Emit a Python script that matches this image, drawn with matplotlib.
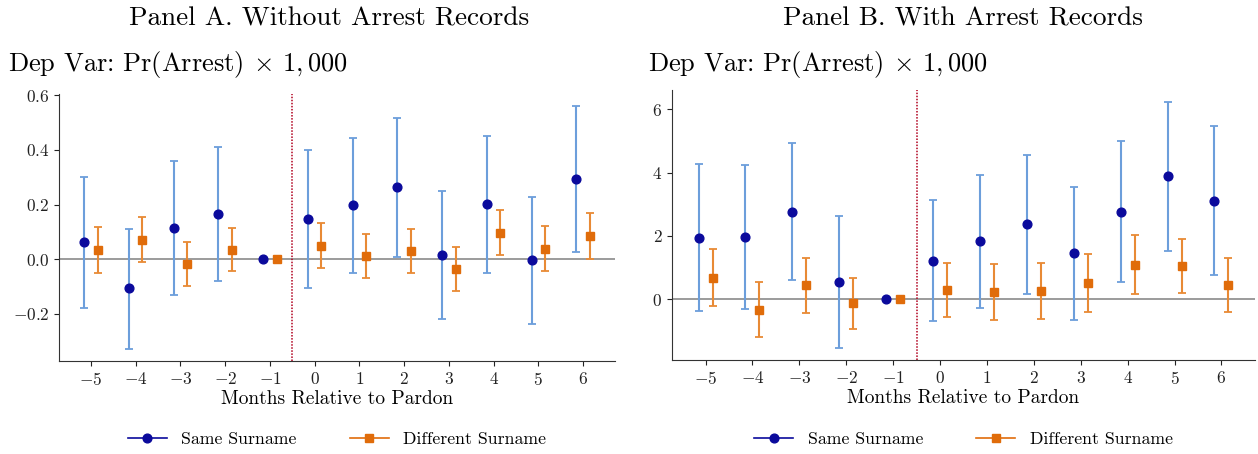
import numpy as np
import matplotlib
matplotlib.use("Agg")
import matplotlib.pyplot as plt
from matplotlib.lines import Line2D

plt.rcParams['font.family'] = 'serif'
plt.rcParams['font.serif'] = ['cmr10']
plt.rcParams['mathtext.fontset'] = 'cm'
plt.rcParams['axes.formatter.use_mathtext'] = True

months = np.arange(-5, 7)

# Panel A: without arrest records
a_same = [0.063, -0.107, 0.115, 0.166, 0.0, 0.146, 0.198, 0.263, 0.015, 0.201, -0.004, 0.292]
a_same_lo = [-0.177, -0.328, -0.129, -0.079, 0.0, -0.107, -0.049, 0.009, -0.220, -0.050, -0.237, 0.025]
a_same_hi = [0.302, 0.112, 0.360, 0.410, 0.0, 0.400, 0.444, 0.518, 0.250, 0.452, 0.228, 0.560]
a_diff = [0.034, 0.072, -0.018, 0.035, 0.0, 0.049, 0.012, 0.030, -0.037, 0.096, 0.039, 0.084]
a_diff_lo = [-0.050, -0.011, -0.099, -0.044, 0.0, -0.033, -0.070, -0.051, -0.118, 0.015, -0.043, 0.0]
a_diff_hi = [0.118, 0.155, 0.062, 0.115, 0.0, 0.131, 0.094, 0.112, 0.045, 0.179, 0.121, 0.168]

# Panel B: with arrest records
b_same = [1.93, 1.97, 2.76, 0.54, 0.0, 1.20, 1.84, 2.37, 1.45, 2.76, 3.88, 3.11]
b_same_lo = [-0.39, -0.30, 0.59, -1.54, 0.0, -0.70, -0.27, 0.17, -0.67, 0.53, 1.52, 0.75]
b_same_hi = [4.26, 4.23, 4.94, 2.64, 0.0, 3.12, 3.94, 4.56, 3.56, 5.00, 6.23, 5.48]
b_diff = [0.68, -0.34, 0.43, -0.13, 0.0, 0.30, 0.22, 0.25, 0.52, 1.09, 1.06, 0.44]
b_diff_lo = [-0.23, -1.21, -0.45, -0.96, 0.0, -0.58, -0.65, -0.63, -0.40, 0.17, 0.20, -0.42]
b_diff_hi = [1.58, 0.55, 1.31, 0.68, 0.0, 1.15, 1.11, 1.15, 1.44, 2.03, 1.91, 1.31]

NAVY = '#0b0a9c'
LIGHT_BLUE = '#6c9edb'
ORANGE = '#e06c0a'
LIGHT_ORANGE = '#e88a35'


def draw_panel(ax, same, s_lo, s_hi, diff, d_lo, d_hi):
    same = np.array(same)
    diff = np.array(diff)
    s_err = [same - np.array(s_lo), np.array(s_hi) - same]
    d_err = [diff - np.array(d_lo), np.array(d_hi) - diff]
    ax.axhline(0, color='#808080', lw=1.1, zorder=1)
    ax.axvline(-0.5, color='#b0001e', ls=(0, (1, 1)), lw=1.1, zorder=1)
    ax.errorbar(months - 0.15, same, yerr=s_err, fmt='o', color=NAVY, ecolor=LIGHT_BLUE,
                elinewidth=1.5, capsize=3, capthick=1.3, markersize=6.3, zorder=3)
    ax.errorbar(months + 0.15, diff, yerr=d_err, fmt='s', color=ORANGE, ecolor=LIGHT_ORANGE,
                elinewidth=1.5, capsize=3, capthick=1.3, markersize=6.3, zorder=3)
    ax.set_xticks(months)
    ax.spines['top'].set_visible(False)
    ax.spines['right'].set_visible(False)
    ax.spines['left'].set_color('#333333')
    ax.spines['bottom'].set_color('#333333')
    ax.tick_params(labelsize=12.5, colors='#222222')
    ax.set_xlabel('Months Relative to Pardon', fontsize=14, labelpad=2)
    handles = [Line2D([], [], color=NAVY, marker='o', markersize=6.3, lw=1.2),
               Line2D([], [], color=ORANGE, marker='s', markersize=6.3, lw=1.2)]
    ax.legend(handles, ['Same Surname', 'Different Surname'], ncol=2, frameon=False,
              loc='center', bbox_to_anchor=(0.5, -0.295), fontsize=12.8,
              columnspacing=3.0, handlelength=2.2)


fig = plt.figure(figsize=(12.58, 4.54), dpi=100)
ax1 = fig.add_axes([0.0469, 0.2048, 0.442, 0.588])
ax2 = fig.add_axes([0.5342, 0.207, 0.4634, 0.595])

draw_panel(ax1, a_same, a_same_lo, a_same_hi, a_diff, a_diff_lo, a_diff_hi)
draw_panel(ax2, b_same, b_same_lo, b_same_hi, b_diff, b_diff_lo, b_diff_hi)
ax1.set_yticks([-0.2, 0.0, 0.2, 0.4, 0.6])
ax2.set_yticks([0, 2, 4, 6])

fig.text(0.2615, 0.96, 'Panel A. Without Arrest Records', ha='center', va='center', fontsize=19.6)
fig.text(0.7655, 0.96, 'Panel B. With Arrest Records', ha='center', va='center', fontsize=19.6)
sub = r'Dep Var: Pr(Arrest) $\times$ $1,000$'
fig.text(0.006, 0.857, sub, ha='left', va='center', fontsize=19)
fig.text(0.515, 0.857, sub, ha='left', va='center', fontsize=19)

fig.savefig('out.png', dpi=100)
